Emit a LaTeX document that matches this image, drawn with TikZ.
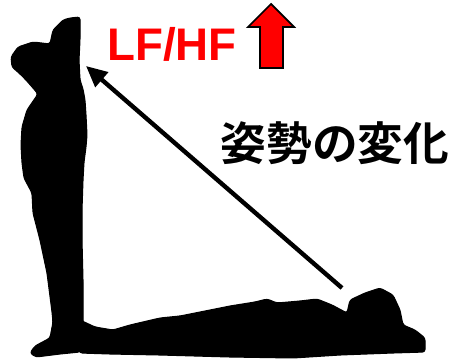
\documentclass[tikz,border=0pt]{standalone}
\usepackage{fontspec}
\setmainfont{Liberation Sans}
\newfontfamily\jpfont{Noto Sans CJK JP}[BoldFont={Noto Sans CJK JP Bold}]
\usepackage{xcolor}
\usetikzlibrary{arrows.meta}

\tikzset{
  body/.style={fill=black, draw=black, line width=0.6pt, rounded corners=1.5pt},
  change/.style={line width=2.5pt, -{Triangle[length=0.42cm, width=0.38cm]}},
  ratio/.style={text=red, font=\fontsize{26}{30}\selectfont\bfseries, inner sep=0pt},
  posture/.style={font=\jpfont\fontsize{26}{30}\selectfont\bfseries, inner sep=0pt}
}

\begin{document}
\begin{tikzpicture}[x=0.02cm, y=-0.02cm]
\useasboundingbox (0,0) rectangle (459,361);

% standing person
\draw[body] (63,20) -- (70,18) -- (80,17) -- (80,40) -- (79,60) -- (80,80)
  -- (83,89) -- (85,100) -- (86,115) -- (87,135) -- (86,147) -- (84,162)
  -- (83,180) -- (82,210) -- (82,240) -- (83,280) -- (83,320) -- (85,332)
  -- (86,346) -- (80,352) -- (60,354) -- (36,357) -- (30,353) -- (35,346)
  -- (50,338) -- (53,322) -- (52,312) -- (47,273) -- (40,240) -- (33,213)
  -- (32,193) -- (24,178) -- (22,163) -- (21,145) -- (22,127) -- (27,110)
  -- (38,94) -- (33,88) -- (26,80) -- (19,73) -- (12,67) -- (11,57)
  -- (18,47) -- (33,42) -- (50,44) -- (53,30) -- cycle;

% lying person
\draw[body] (80,320) -- (95,327) -- (113,330) -- (130,325) -- (160,318)
  -- (180,316) -- (200,312) -- (230,306) -- (255,302) -- (267,299)
  -- (277,303) -- (300,301) -- (317,299) -- (332,305) -- (347,313)
  -- (350,300) -- (365,293) -- (380,288) -- (393,295) -- (400,310)
  -- (403,325) -- (415,330) -- (425,338) -- (425,352) -- (393,353)
  -- (340,355) -- (293,358) -- (230,357) -- (160,355) -- (110,354)
  -- (80,353) -- (76,345) -- cycle;

% arrow between postures
\coordinate (lie) at (342,288);
\coordinate (stand) at (86,66);
\draw[change] (lie) -- (stand);

% labels
\node[ratio] (lfhf) at (172,44) {LF/HF};
\node[posture] (label) at (335,143) {姿勢の変化};

% red up arrow
\draw[fill=red, draw=black, line width=1pt, line join=miter]
  (260,68) -- (260,27) -- (248,27) -- (271,4) -- (294,27) -- (283,27)
  -- (283,68) -- cycle;
\end{tikzpicture}
\end{document}
